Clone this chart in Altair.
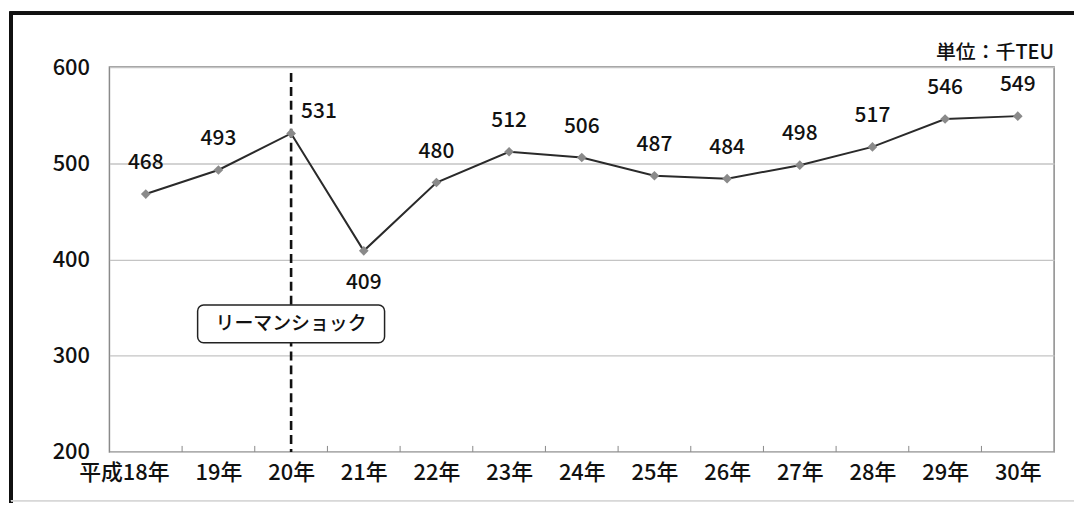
import altair as alt
import pandas as pd

categories = ["平成18年", "19年", "20年", "21年", "22年", "23年", "24年",
              "25年", "26年", "27年", "28年", "29年", "30年"]
values = [468, 493, 531, 409, 480, 512, 506, 487, 484, 498, 517, 546, 549]
unit_text = "単位：千TEU"
event_text = "リーマンショック"
event_index = 2          # 平成20年
event_box_value = 333    # vertical centre of the annotation box (data units)

W, H = 950, 387
FONT = "Noto Sans CJK JP"

df = pd.DataFrame({"i": list(range(len(categories))), "cat": categories, "v": values})
bounds = pd.DataFrame({"b": [k + 0.5 for k in range(len(categories) - 1)]})

label_expr = "[" + ",".join("'" + c + "'" for c in categories) + "][datum.value]"

xscale = alt.Scale(domain=[-0.5, len(categories) - 0.5], nice=False, zero=False)
yscale = alt.Scale(domain=[200, 600], nice=False, zero=False)

xenc = alt.X("i:Q", scale=xscale, axis=alt.Axis(
    values=list(range(len(categories))), labelExpr=label_expr, grid=False,
    ticks=False, domain=False, labelFont=FONT, labelFontSize=22,
    labelFontWeight=500, labelColor="#111", labelPadding=11, title=None,
    labelFlush=False, labelOverlap=False,
    labelOffset={"condition": {"test": "datum.value == 0", "value": -22}, "value": 0}))
yenc = alt.Y("v:Q", scale=yscale, axis=alt.Axis(
    values=[200, 300, 400, 500, 600], grid=True, gridColor="#c4c4c4",
    gridWidth=1.3, ticks=False, domain=False, labelFont=FONT,
    labelFontSize=22, labelFontWeight=500, labelColor="#111",
    labelPadding=20, title=None))

base = alt.Chart(df)

frame = base.mark_rect(fill=None, stroke="#111", strokeWidth=3).encode(
    x=alt.value(-99), x2=alt.value(W + 60), y=alt.value(-54), y2=alt.value(H + 90))
bottom_line = base.mark_rule(color="#d8d8d8", strokeWidth=1).encode(
    x=alt.value(-99), x2=alt.value(W + 60), y=alt.value(H + 49))

line = base.mark_line(color="#2a2a2a", strokeWidth=2).encode(x=xenc, y=yenc)
points = base.mark_point(shape="diamond", filled=True, color="#8a8a8a",
                         size=95, opacity=1).encode(x="i:Q", y="v:Q")

ev = pd.DataFrame({"i": [event_index], "v": [event_box_value], "t": [event_text]})
dash = alt.Chart(ev).mark_rule(color="#111", strokeWidth=2.6, strokeDash=[9, 5]).encode(
    x="i:Q", y=alt.value(6), y2=alt.value(H))
box = alt.Chart(ev).mark_rect(width=188, height=38, cornerRadius=6, fill="white",
                              stroke="#222", strokeWidth=1.5).encode(x="i:Q", y="v:Q")
box_text = alt.Chart(ev).mark_text(font=FONT, fontSize=19, fontWeight=500,
                                   color="#111").encode(x="i:Q", y="v:Q", text="t:N")

txt = dict(font=FONT, fontSize=21, fontWeight=500, color="#111")
normal = base.transform_filter("datum.i != 2 && datum.i != 3").mark_text(
    dy=-31, **txt).encode(x="i:Q", y="v:Q", text="v:Q")
peak = base.transform_filter("datum.i == 2").mark_text(
    dx=28, dy=-22, **txt).encode(x="i:Q", y="v:Q", text="v:Q")
dip = base.transform_filter("datum.i == 3").mark_text(
    dy=32, **txt).encode(x="i:Q", y="v:Q", text="v:Q")

ticks = alt.Chart(bounds).mark_rule(color="#888", strokeWidth=1).encode(
    x="b:Q", y=alt.datum(200), y2=alt.value(H - 6))

unit = alt.Chart(pd.DataFrame({"t": [unit_text]})).mark_text(
    font=FONT, fontSize=20, fontWeight=500, color="#111", align="right",
    baseline="middle").encode(x=alt.value(W), y=alt.value(-14), text="t:N")

chart = alt.layer(frame, bottom_line, dash, line, points, box, box_text, normal,
                  peak, dip, ticks, unit).properties(
    width=W, height=H,
    autosize=alt.AutoSizeParams(type="none"),
    padding={"left": 102, "top": 58, "right": 20, "bottom": 50},
    background="white",
).configure_view(stroke="#8a8a8a", strokeWidth=1.5)

chart.save("out.html", embed_options={"renderer": "svg", "actions": False})
